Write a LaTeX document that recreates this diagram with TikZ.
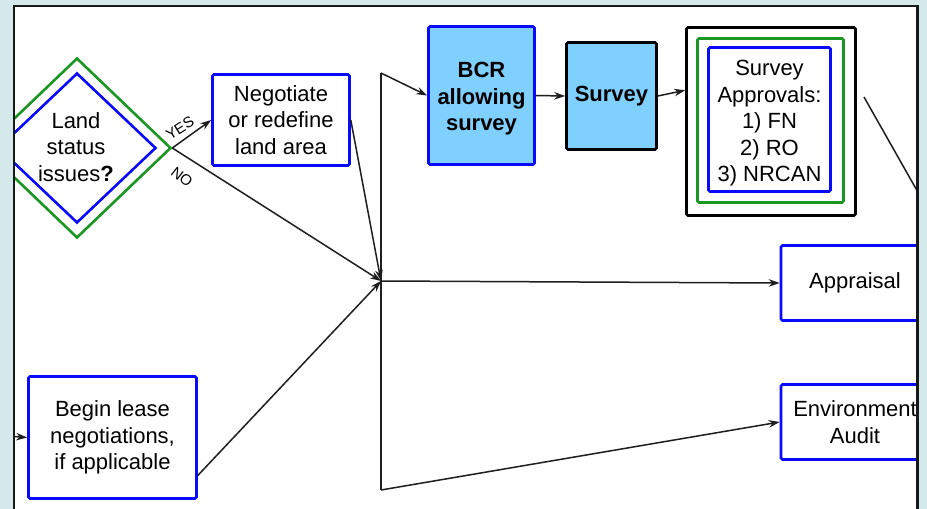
\documentclass[tikz,border=0pt]{standalone}
\usepackage{fontspec}
\setmainfont{Liberation Sans}
\usetikzlibrary{shapes.geometric,arrows.meta}
\definecolor{pagebg}{RGB}{214,233,234}
\definecolor{boxblue}{RGB}{10,10,250}
\definecolor{boxgreen}{RGB}{25,150,35}
\definecolor{skyfill}{RGB}{128,208,255}
\definecolor{inkline}{RGB}{30,30,30}

\begin{document}
\begin{tikzpicture}[x=1pt,y=-1pt,
  lbl/.style={font=\fontsize{22}{26.5}\selectfont, align=center, text=black},
  tag/.style={font=\fontsize{15}{17}\selectfont, text=black, inner sep=0pt},
  boxbase/.style={line width=2.6pt, rounded corners=1.5pt, inner sep=0pt, lbl},
  bluebox/.style={boxbase, draw=boxblue, fill=white},
  skybox/.style={boxbase, fill=skyfill},
  ring/.style={line width=2.6pt, rounded corners=1.5pt, inner sep=0pt},
  conn/.style={line width=1.5pt, draw=inkline},
  arr/.style={conn, -{Stealth[length=11pt,width=7.5pt]}}
]
% window background and page area
\useasboundingbox (0,0) rectangle (927,509);
\fill[pagebg] (0,0) rectangle (927,509);
\fill[white] (14,6) rectangle (918,515);

\begin{scope}
\clip (14,6) rectangle (918,515);

% decision diamond
\node[draw=boxgreen, shape=diamond, line width=2.6pt, inner sep=0pt,
      minimum width=188pt, minimum height=180pt] (dia) at (77,148) {};
\node[draw=boxblue, shape=diamond, line width=2.6pt, inner sep=0pt,
      minimum width=158pt, minimum height=150pt] (diain) at (77,148) {};
\node[lbl] (diatxt) at (76,147) {Land\\status\\issues\textbf{?}};

% process boxes
\node[bluebox, minimum width=137pt, minimum height=91pt] (neg) at (281,120)
  {Negotiate\\or redefine\\land area};
\node[skybox, draw=boxblue, minimum width=106pt, minimum height=138pt] (bcr) at (481.5,95.5)
  {\rule{0pt}{22pt}\bfseries BCR\\\bfseries allowing\\\bfseries survey};
\node[skybox, draw=black, minimum width=90pt, minimum height=107pt] (survey) at (611.5,96)
  {\bfseries Survey};

% approvals box with nested frames
\node[ring, draw=black, fill=white, minimum width=169pt, minimum height=188pt] (apo) at (771,121.5) {};
\node[ring, draw=boxgreen, minimum width=146pt, minimum height=164pt] (apg) at (770.5,120.5) {};
\node[bluebox, minimum width=122pt, minimum height=144pt] (apb) at (769.5,119.5)
  {\rule{0pt}{23pt}Survey\\Approvals:\\1) FN\\2) RO\\3) NRCAN};

\node[bluebox, minimum width=148pt, minimum height=75pt] (appr) at (855,283) {Appraisal};
\node[bluebox, minimum width=148pt, minimum height=75pt] (env) at (855,422) {Environment\\Audit};
\node[bluebox, minimum width=168pt, minimum height=122pt] (begin) at (112.5,437.5)
  {Begin lease\\negotiations,\\if applicable};

% junction points of the distribution bar
\coordinate (j) at (381,281);
\coordinate (jt) at (381,73);
\coordinate (jb) at (381,490);
\coordinate (lin) at (8,436);
\coordinate (ax) at (864,97);
\coordinate (ay) at (945,240);

% connectors
\draw[arr] (dia.east) -- (neg.west);
\draw[arr] (dia.east) -- (j);
\draw[arr] (neg.east) -- (j);
\draw[arr] (begin.-24) -- (j);
\draw[arr] (lin) -- (begin.west);
\draw[conn] (jt) -- (jb);
\draw[arr] (jt) -- (bcr.west);
\draw[arr] (j) -- (appr.west);
\draw[arr] (jb) -- (env.west);
\draw[arr] (bcr.east) -- (survey.west);
\draw[arr] (survey.east) -- (apo.160);
\draw[conn] (ax) -- (ay);

% branch labels
\node[tag, rotate=32] (yes) at (180,128) {YES};
\node[tag, rotate=-38] (no) at (182,177) {NO};
\end{scope}

% window frame
\draw[line width=2.5pt, black!90] (14,515) -- (14,6) -- (917.5,6) -- (917.5,515);
\end{tikzpicture}
\end{document}
